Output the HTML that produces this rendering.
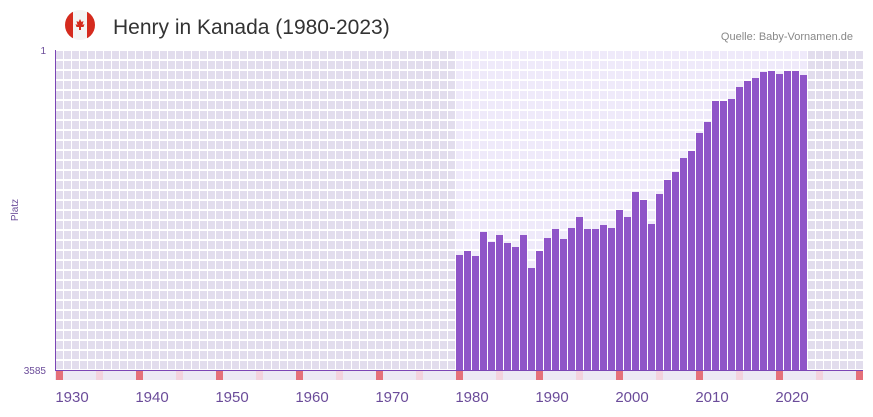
<!DOCTYPE html><html><head><style>body{margin:0;background:#fff;width:873px;height:412px;overflow:hidden;font-family:"Liberation Sans",sans-serif}</style></head><body>
<svg width="873" height="412" xmlns="http://www.w3.org/2000/svg">
<defs>
<pattern id="gd" x="55" y="50" width="8" height="10" patternUnits="userSpaceOnUse"><rect width="8" height="10" fill="#fff"/><rect x="1" y="1" width="7" height="8" fill="#e2dded"/></pattern>
<pattern id="gl" x="55" y="50" width="8" height="10" patternUnits="userSpaceOnUse"><rect width="8" height="10" fill="#fff"/><rect x="1" y="1" width="7" height="8" fill="#efeafa"/></pattern>
<clipPath id="c"><circle cx="80" cy="25" r="15"/></clipPath>
</defs>
<g clip-path="url(#c)"><rect x="65" y="10" width="30" height="30" fill="#f4f4f4"/><rect x="65" y="10" width="8" height="30" fill="#d52b1e"/><rect x="87" y="10" width="8" height="30" fill="#d52b1e"/><path d="M80 19l1.5 3 2-1-1 4 2-1-1 3h-2.5v3h-2v-3h-2.5l-1-3 2 1-1-4 2 1z" fill="#d52b1e"/></g>
<text x="113" y="34" font-size="21" fill="#333">Henry in Kanada (1980-2023)</text>
<text x="853" y="40" font-size="11" fill="#888" text-anchor="end">Quelle: Baby-Vornamen.de</text>
<rect x="55" y="50" width="808" height="320" fill="url(#gd)"/>
<rect x="455" y="50" width="352" height="320" fill="url(#gl)"/>
<rect x="55" y="370" width="808" height="10" fill="#ece8f4"/>
<g fill="#8f55c8" id="bars"></g>
<line x1="55.5" y1="50" x2="55.5" y2="370" stroke="#7b45b5"/>
<line x1="55" y1="370.5" x2="863" y2="370.5" stroke="#7b45b5"/>
<g id="marks"></g>
<text x="46" y="54" font-size="10" fill="#6b4c9a" text-anchor="end">1</text>
<text x="46" y="374" font-size="10" fill="#6b4c9a" text-anchor="end">3585</text>
<text x="18" y="210" font-size="10" fill="#6b4c9a" text-anchor="middle" transform="rotate(-90 18 210)">Platz</text>
<g font-size="15" fill="#6b4c9a" text-anchor="middle" id="lab"></g>
</svg>
<script>
var t=[255,251,256,232,242,235,243,247,235,268,251,238,229,239,228,217,229,229,225,228,210,217,192,200,224,194,180,172,158,151,133,122,101,101,99,87,81,78,72,71,74,71,71,75];
var ns="http://www.w3.org/2000/svg",b=document.getElementById("bars");
t.forEach(function(v,i){var r=document.createElementNS(ns,"rect");r.setAttribute("x",456+8*i);r.setAttribute("y",v);r.setAttribute("width",7);r.setAttribute("height",370-v);b.appendChild(r);});
var m=document.getElementById("marks"),l=document.getElementById("lab");
for(var y=1930;y<=2030;y+=5){var x=456+(y-1980)*8;if(x>860)break;var r=document.createElementNS(ns,"rect");r.setAttribute("x",x);r.setAttribute("y",371);r.setAttribute("width",7);r.setAttribute("height",9);r.setAttribute("fill",y%10==0?"#e5707a":"#f3d3de");m.appendChild(r);
if(y%10==0&&y<=2020){var s=document.createElementNS(ns,"text");s.setAttribute("x",x+16);s.setAttribute("y",402);s.textContent=y;l.appendChild(s);}}
</script>
</body></html>
